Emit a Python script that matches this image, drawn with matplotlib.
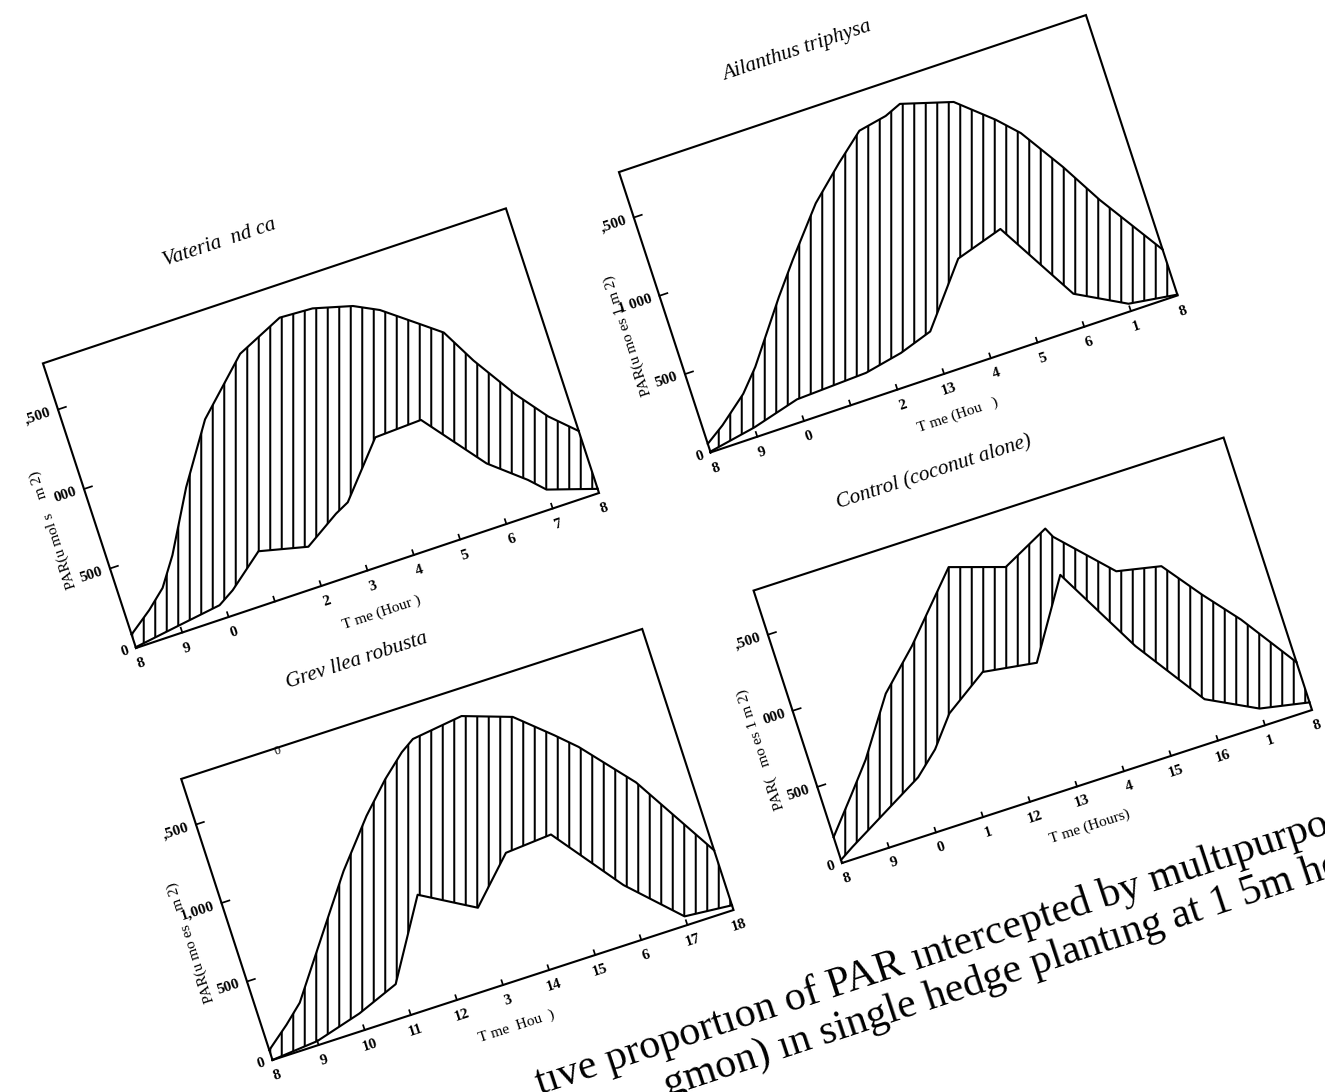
import numpy as np
import matplotlib
matplotlib.use("Agg")
import matplotlib.pyplot as plt
from matplotlib.transforms import Affine2D

plt.rcParams["font.family"] = ["Liberation Serif", "DejaVu Serif"]
plt.rcParams["hatch.linewidth"] = 1.05

W, H, DPI = 1325, 1092, 138
YMAX = 1790

# ─── PAR (u mol s-1 m-2) vs hour ────────────────────────────
vat_hr_up  = [8, 8.5, 8.9, 9.3, 10, 10.8, 11.9, 12.9, 13.6, 14.4, 14.9, 15.6, 16, 16.4, 17, 17.5, 18]
vat_par_up = [85, 190, 290, 457, 816, 1165, 1470, 1600, 1590, 1527, 1453, 1295, 1204, 989, 718, 530, 390]
vat_hr_lo  = [8, 9, 9.9, 10.25, 11, 12, 12.75, 13.05, 14, 15, 16, 16.7, 17, 18]
vat_par_lo = [5, 47, 84, 144, 316, 247, 382, 424, 740, 752, 381, 209, 119, 26]

ail_hr_up  = [8, 8.4, 9, 9.4, 10.3, 10.8, 11.6, 12.3, 12.9, 13.5, 13.85, 14.9, 15.6, 16, 16.6, 17.1, 18]
ail_par_up = [55, 133, 274, 405, 763, 949, 1230, 1416, 1563, 1597, 1639, 1546, 1362, 1237, 960, 700, 293]
ail_hr_lo  = [8, 9, 10, 11.5, 12.3, 13, 14, 15, 16, 17, 18]
ail_par_lo = [5, 59, 138, 157, 204, 271, 636, 725, 211, 47, 5]

gre_hr_up  = [8, 8.5, 8.9, 10.1, 10.6, 11.4, 12, 12.5, 12.8, 13.9, 14.9, 15.6, 16, 16.9, 18]
gre_par_up = [63, 177, 279, 758, 956, 1230, 1406, 1531, 1586, 1627, 1526, 1342, 1230, 918, 380]
gre_hr_lo  = [8, 9, 10, 10.9, 11.9, 13, 13.9, 14.9, 16, 17, 18]
gre_par_lo = [0, 25, 105, 206, 680, 492, 756, 777, 350, 55, 30]

con_hr_up  = [8, 8.6, 9.1, 9.9, 10.7, 11.9, 13, 14, 14.1, 15.1, 16, 16.6, 17.2, 18]
con_par_up = [170, 385, 568, 922, 1154, 1552, 1442, 1594, 1530, 1203, 1146, 900, 674, 314]
con_hr_lo  = [8, 8.3, 10, 10.5, 11, 11.9, 13, 14, 15, 16, 17, 18]
con_par_lo = [20, 75, 362, 495, 681, 863, 813, 1290, 722, 272, 110, 50]

hour_ticks = list(range(8, 19))
par_ticks = [0, 500, 1000, 1500]

vat_xlab = ["8", "9", "0", "", "2", "3", "4", "5", "6", "7", "8"]
ail_xlab = ["8", "9", "0", "", "2", "13", "4", "5", "6", "1", "8"]
gre_xlab = ["8", "9", "10", "11", "12", "3", "14", "15", "6", "17", "18"]
con_xlab = ["8", "9", "0", "1", "12", "13", "4", "15", "16", "1", "8"]

vat_ylab = ["0", "500", "000", ",500"]
ail_ylab = ["0", "500", "1 000", ",500"]
gre_ylab = ["0", "500", "1,000", ",500"]
con_ylab = ["0", "500", "000", ",500"]

# ─── scanned page: each panel is a tilted frame (pixel origin, px per hour, px per PAR)
panels = [
    dict(title="Vateria  nd ca", o=(136, 648), a=(46.3, -15.5), b=(-0.052, -0.159),
         up=(vat_hr_up, vat_par_up), lo=(vat_hr_lo, vat_par_lo),
         xlab=vat_xlab, ylab=vat_ylab, xt="T me (Hour )", yt="PAR(u mol s    m 2)"),
    dict(title="Ailanthus triphysa", o=(710.6, 452.4), a=(46.7, -15.7), b=(-0.0512, -0.1566),
         up=(ail_hr_up, ail_par_up), lo=(ail_hr_lo, ail_par_lo),
         xlab=ail_xlab, ylab=ail_ylab, xt="T me (Hou   )", yt="PAR(u mo es 1 m 2)"),
    dict(title="Grev llea robusta", o=(272.5, 1060), a=(46.1, -15.0), b=(-0.051, -0.157),
         up=(gre_hr_up, gre_par_up), lo=(gre_hr_lo, gre_par_lo),
         xlab=gre_xlab, ylab=gre_ylab, xt="T me  Hou  )", yt="PAR(u mo es    m 2)"),
    dict(title="Control (coconut alone)", o=(842, 863), a=(47.0, -15.3), b=(-0.0494, -0.1522),
         up=(con_hr_up, con_par_up), lo=(con_hr_lo, con_par_lo),
         xlab=con_xlab, ylab=con_ylab, xt="T me (Hours)", yt="PAR(   mo es 1 m 2)"),
]

fig = plt.figure(figsize=(W / DPI, H / DPI), dpi=DPI)
fig.patch.set_facecolor("white")
bg = fig.add_axes([0, 0, 1, 1])
bg.set_xlim(0, W)
bg.set_ylim(H, 0)
bg.axis("off")

for p in panels:
    (ox, oy), (ax_, ay_), (bx_, by_) = p["o"], p["a"], p["b"]
    M = np.array([[ax_, bx_, ox - 8 * ax_],
                  [ay_, by_, oy - 8 * ay_],
                  [0, 0, 1]])
    tr = Affine2D(M) + bg.transData
    rot_x = np.degrees(np.arctan2(-ay_, ax_))
    rot_y = np.degrees(np.arctan2(-by_, bx_))

    # frame
    bg.plot([8, 18, 18, 8, 8], [0, 0, YMAX, YMAX, 0], transform=tr,
            color="black", lw=1.1, solid_joinstyle="miter")

    # hatched band between the two curves
    hu, pu = p["up"]
    hl, pl = p["lo"]
    bg.fill(list(hu) + list(hl)[::-1], list(pu) + list(pl)[::-1], transform=tr,
            facecolor="none", edgecolor="black", hatch="||", linewidth=0)
    bg.plot(hu, pu, transform=tr, color="black", lw=1.1)
    bg.plot(hl, pl, transform=tr, color="black", lw=1.1)

    # ticks (inward)
    for h in hour_ticks[1:-1]:
        bg.plot([h, h], [0, 30], transform=tr, color="black", lw=0.9)
    for v in par_ticks[1:]:
        bg.plot([8, 8.17], [v, v], transform=tr, color="black", lw=0.9)

    for h, lab in zip(hour_ticks, p["xlab"]):
        bg.text(h, -100, lab, transform=tr, rotation=rot_x, rotation_mode="anchor",
                ha="center", va="center", fontsize=8, fontweight="bold")
    for v, lab in zip(par_ticks, p["ylab"]):
        bg.text(7.84, v, lab, transform=tr, rotation=rot_x, rotation_mode="anchor",
                ha="right", va="center", fontsize=8, fontweight="bold")

    bg.text(13, -265, p["xt"], transform=tr, rotation=rot_x, rotation_mode="anchor",
            ha="center", va="center", fontsize=8)
    bg.text(7.15, 830, p["yt"], transform=tr, rotation=rot_y, rotation_mode="anchor",
            ha="center", va="center", fontsize=8)
    bg.text(12.2, 2140, p["title"], transform=tr, rotation=rot_x, rotation_mode="anchor",
            ha="center", va="center", fontsize=11, style="italic")

    if p["title"].startswith("Grev"):
        bg.text(10.07, 1770, "0", transform=tr, rotation=rot_x, rotation_mode="anchor",
                ha="center", va="center", fontsize=6.5)

# caption, cut off by the page edge
bg.text(540, 1094, "tıve proportıon of PAR ıntercepted by multıpurpos",
        rotation=18.3, rotation_mode="anchor", ha="left", va="baseline", fontsize=22)
bg.text(668, 1096, "gmon) ın single hedge plantıng at 1 5m he",
        rotation=18.3, rotation_mode="anchor", ha="left", va="baseline", fontsize=22)

fig.savefig("out.png", dpi=DPI, facecolor="white")
